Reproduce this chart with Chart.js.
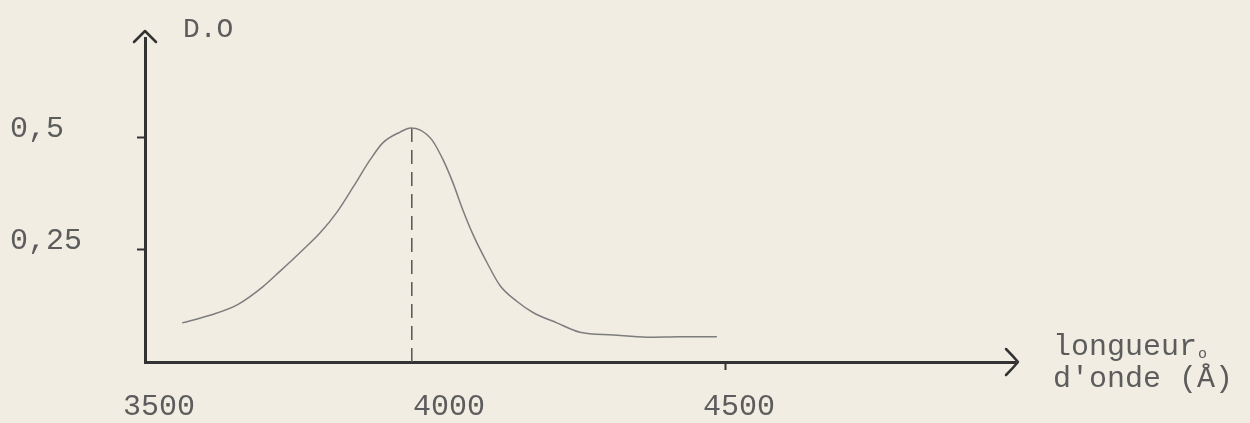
<!DOCTYPE html>
<html>
<head>
<meta charset="utf-8">
<script src="https://cdn.jsdelivr.net/npm/chart.js@4/dist/chart.umd.min.js"></script>
<style>
  html, body { margin: 0; padding: 0; background: #f1ede3; }
  #wrap { width: 1250px; height: 423px; position: relative; }
  canvas { display: block; }
</style>
</head>
<body>
<div id="wrap"><canvas id="c" width="1250" height="423"></canvas></div>
<script>
// ---- data ----
const wavelengths = [3564, 3612, 3659, 3703, 3733, 3772, 3802, 3831, 3859, 3888, 3910, 3940, 3958, 3974, 3995, 4014, 4031, 4048, 4066, 4090, 4112, 4141, 4169, 4210, 4250, 4307, 4366, 4422, 4486];
const density     = [0.087, 0.104, 0.127, 0.167, 0.202, 0.249, 0.287, 0.333, 0.389, 0.449, 0.487, 0.511, 0.520, 0.516, 0.493, 0.449, 0.398, 0.338, 0.282, 0.220, 0.170, 0.135, 0.110, 0.087, 0.066, 0.060, 0.055, 0.056, 0.056];
const peakWavelength = 3960;
const peakDensity = 0.52;
const xTickValues = [3500, 4000, 4500];
const xTickLabels = ['3500', '4000', '4500'];
const yTickValues = [0.25, 0.5];
const yTickLabels = ['0,25', '0,5'];
const yAxisTitle = 'D.O';
const xAxisTitleLines = ['longueur', "d'onde (Å)"];

const FONT = "'Liberation Mono', 'DejaVu Sans Mono', monospace";
const INK = '#333';
const TEXT = '#5c5c5c';

const curvePoints = wavelengths.map((w, i) => ({ x: w, y: density[i] }));
const dashPoints = [{ x: peakWavelength, y: 0 }, { x: peakWavelength, y: peakDensity }];

const decorPlugin = {
  id: 'decor',
  afterDraw(chart) {
    const { ctx, chartArea } = chart;
    const x0 = chartArea.left, y0 = chartArea.bottom, top = chartArea.top, right = chartArea.right;
    ctx.save();
    ctx.strokeStyle = INK;
    ctx.lineWidth = 2.5;
    ctx.lineCap = 'round';
    ctx.lineJoin = 'round';
    // y arrow head
    ctx.beginPath();
    ctx.moveTo(x0 - 11, top + 4);
    ctx.lineTo(x0, top - 7);
    ctx.lineTo(x0 + 11, top + 4);
    ctx.stroke();
    // x arrow head
    ctx.beginPath();
    ctx.moveTo(right - 9, y0 - 13);
    ctx.quadraticCurveTo(right - 2, y0 - 6, right + 3, y0);
    ctx.quadraticCurveTo(right - 2, y0 + 6, right - 9, y0 + 13);
    ctx.stroke();
    // titles
    ctx.fillStyle = TEXT;
    ctx.font = '28px ' + FONT;
    ctx.textAlign = 'left';
    ctx.textBaseline = 'alphabetic';
    ctx.fillText(yAxisTitle, x0 + 38, top - 1);
    ctx.font = '30px ' + FONT;
    const tx = right + 38;
    ctx.fillText(xAxisTitleLines[0], tx, y0 - 7);
    const w0 = ctx.measureText(xAxisTitleLines[0]).width;
    ctx.font = '15px ' + FONT;
    ctx.fillText('o', tx + w0 + 1, y0 - 4);
    ctx.font = '30px ' + FONT;
    ctx.fillText(xAxisTitleLines[1], tx, y0 + 25);
    ctx.restore();
  }
};

Chart.defaults.font.family = FONT;
Chart.defaults.font.size = 30;
Chart.defaults.color = TEXT;

new Chart(document.getElementById('c'), {
  type: 'line',
  data: {
    datasets: [
      {
        data: curvePoints,
        borderColor: '#7d7d7d',
        borderWidth: 1.5,
        pointRadius: 0,
        cubicInterpolationMode: 'monotone',
        fill: false
      },
      {
        data: dashPoints,
        borderColor: '#555',
        borderWidth: 1.5,
        borderDash: [14, 8],
        pointRadius: 0,
        fill: false
      }
    ]
  },
  options: {
    responsive: false,
    animation: false,
    events: [],
    layout: { padding: { left: 10, right: 235, top: 38, bottom: 0 } },
    plugins: { legend: { display: false }, tooltip: { enabled: false }, title: { display: false } },
    scales: {
      x: {
        type: 'linear',
        min: 3500,
        max: 5000,
        afterBuildTicks(scale) { scale.ticks = xTickValues.map(v => ({ value: v })); },
        afterFit(scale) { scale.height = 61; scale.paddingLeft = 0; scale.paddingRight = 0; },
        ticks: {
          padding: 19,
          labelOffset: 14,
          maxRotation: 0,
          autoSkip: false,
          color: TEXT,
          callback(value) { const i = xTickValues.indexOf(value); return i >= 0 ? xTickLabels[i] : ''; }
        },
        grid: {
          drawOnChartArea: false,
          drawTicks: true,
          tickLength: 8,
          tickWidth: 2,
          tickColor: (c) => (c.tick && c.tick.value === 4500 ? INK : 'rgba(0,0,0,0)')
        },
        border: { display: true, color: INK, width: 3 }
      },
      y: {
        type: 'linear',
        min: 0,
        max: 0.72,
        afterBuildTicks(scale) { scale.ticks = yTickValues.map(v => ({ value: v })); },
        afterFit(scale) { scale.width = 135; scale.paddingTop = 0; scale.paddingBottom = 0; },
        ticks: {
          padding: 10,
          crossAlign: 'far',
          labelOffset: -8,
          color: TEXT,
          autoSkip: false,
          callback(value) { const i = yTickValues.indexOf(value); return i >= 0 ? yTickLabels[i] : ''; }
        },
        grid: {
          drawOnChartArea: false,
          drawTicks: true,
          tickLength: 8,
          tickWidth: 2,
          tickColor: INK
        },
        border: { display: true, color: INK, width: 3 }
      }
    }
  },
  plugins: [decorPlugin]
});
</script>
</body>
</html>
